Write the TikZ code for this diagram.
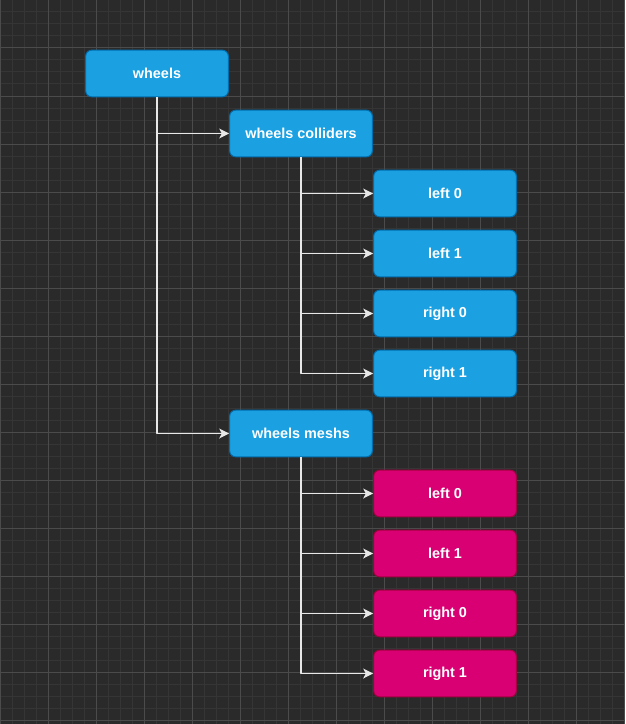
\documentclass[tikz,border=0pt]{standalone}
\usepackage{fontspec}
\setmainfont{Liberation Sans}
\usetikzlibrary{arrows.meta}
\definecolor{bgdark}{HTML}{2A2A2A}
\definecolor{gridminor}{HTML}{353535}
\definecolor{gridmajor}{HTML}{4B4B4B}
\definecolor{bluefill}{HTML}{1BA1E2}
\definecolor{bluedraw}{HTML}{006EAF}
\definecolor{pinkfill}{HTML}{D80073}
\definecolor{pinkdraw}{HTML}{A50040}
\definecolor{linkcol}{HTML}{E8E8E8}
\begin{document}
\begin{tikzpicture}[x=0.75pt,y=-0.75pt, line join=round,
    font=\fontsize{10.8}{13}\selectfont\bfseries,
    box/.style={rectangle, rounded corners=4.5pt, line width=0.75pt,
      minimum width=107pt, minimum height=35pt, text=white, inner sep=0pt},
    blk/.style={box, fill=bluefill, draw=bluedraw},
    pnk/.style={box, fill=pinkfill, draw=pinkdraw},
    link/.style={draw=linkcol, line width=0.9pt,
      -{Stealth[length=7.5pt,width=7.5pt,inset=2pt]}}]
  \def\W{625} \def\H{724}
  % background + grid
  \fill[bgdark] (0,0) rectangle (\W,\H);
  \useasboundingbox (0,0) rectangle (\W,\H);
  \foreach \i in {0,12,...,624} \draw[gridminor,line width=0.75pt] (\i,0)--(\i,\H);
  \foreach \j in {0,12,...,720} \draw[gridminor,line width=0.75pt] (0,\j)--(\W,\j);
  \foreach \i in {0,48,...,624} \draw[gridmajor,line width=0.75pt] (\i,0)--(\i,\H);
  \foreach \j in {0,48,...,720} \draw[gridmajor,line width=0.75pt] (0,\j)--(\W,\j);
  % boxes
  \node[blk] (wheels) at (157,73.5) {wheels};
  \node[blk] (coll) at (301,133.5) {wheels colliders};
  \node[blk] (mesh) at (301,433.5) {wheels meshs};
  \foreach \n/\t [count=\k from 0] in {l0/left 0, l1/left 1, r0/right 0, r1/right 1} {
    \node[blk] (c\n) at (445,193.5+60*\k) {\t};
    \node[pnk] (m\n) at (445,493.5+60*\k) {\t};
  }
  % links
  \draw[link] (wheels.south) |- (coll.west);
  \draw[link] (wheels.south) |- (mesh.west);
  \foreach \n in {l0,l1,r0,r1} {
    \draw[link] (coll.south) |- (c\n.west);
    \draw[link] (mesh.south) |- (m\n.west);
  }
\end{tikzpicture}
\end{document}
